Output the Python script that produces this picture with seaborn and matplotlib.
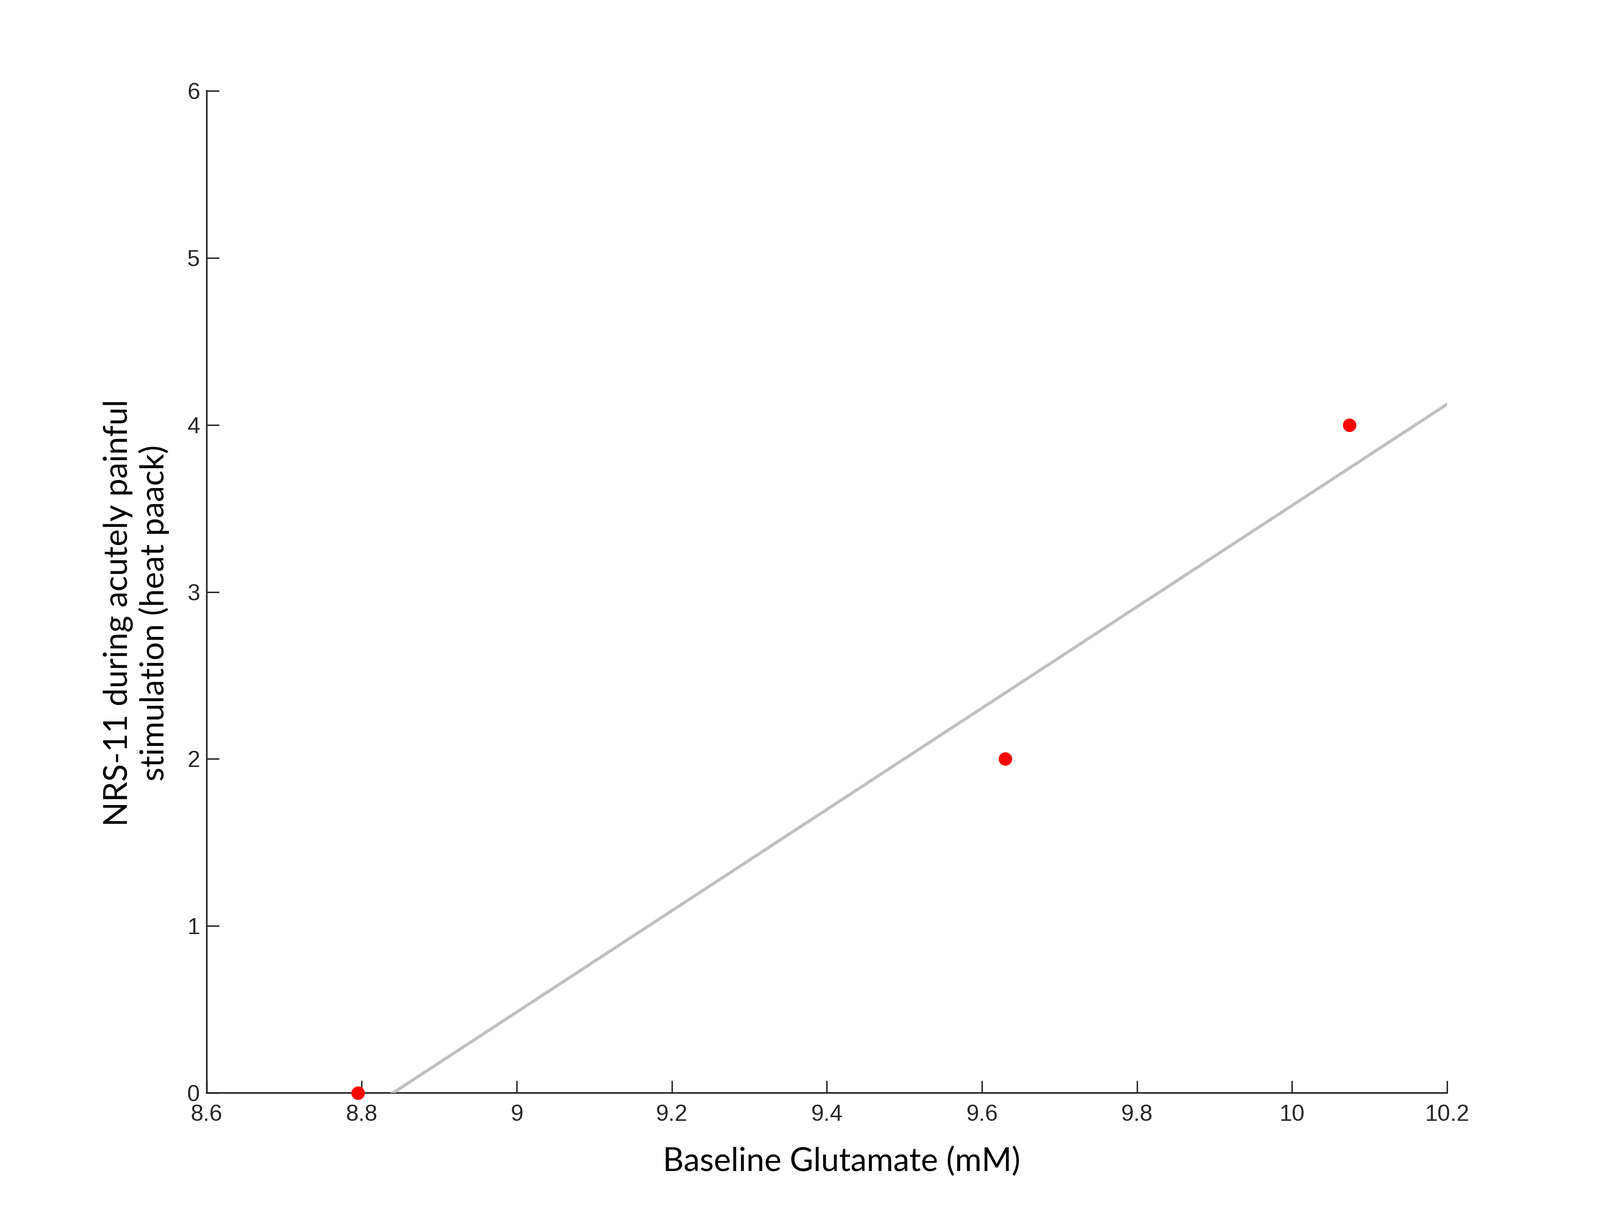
import matplotlib
matplotlib.use("Agg")
import matplotlib.pyplot as plt
import seaborn as sns
import pandas as pd

# Data
glutamate = [8.795, 9.63, 10.074]
nrs = [0, 2, 4]
x_ticks = [8.6, 8.8, 9.0, 9.2, 9.4, 9.6, 9.8, 10.0, 10.2]
x_tick_labels = ["8.6", "8.8", "9", "9.2", "9.4", "9.6", "9.8", "10", "10.2"]
y_ticks = [0, 1, 2, 3, 4, 5, 6]

df = pd.DataFrame({"Glutamate": glutamate, "NRS": nrs})

sns.set_theme(style="ticks")
plt.rcParams["font.family"] = ["Liberation Sans", "DejaVu Sans"]

fig = plt.figure(figsize=(3505 / 300, 2692 / 300), dpi=300)
ax = fig.add_axes([0.1292, 0.1107, 0.9044 - 0.1292, 0.926 - 0.1107])
ax.set_xlim(8.6, 10.2)
ax.set_ylim(0, 6)

sns.regplot(data=df, x="Glutamate", y="NRS", ax=ax, ci=None, truncate=False,
            scatter_kws={"color": "#ff0000", "s": 50, "clip_on": False, "zorder": 5,
                         "linewidths": 0, "alpha": 1},
            line_kws={"color": "#c0c0c0", "lw": 1.6, "zorder": 3})
ax.set_xlim(8.6, 10.2)
ax.set_ylim(0, 6)

ax.set_xticks(x_ticks)
ax.set_xticklabels(x_tick_labels)
ax.set_yticks(y_ticks)
ax.tick_params(direction="in", length=6.5, width=0.75, colors="#262626",
               labelsize=12)
ax.tick_params(axis="x", pad=6)
ax.tick_params(axis="y", pad=3.5)
for s in ["left", "bottom"]:
    ax.spines[s].set_linewidth(0.85)
    ax.spines[s].set_color("#262626")
sns.despine(ax=ax)

lab_font = ["Lato", "DejaVu Sans"]
ax.set_xlabel("Baseline Glutamate (mM)", fontsize=17, family=lab_font, color="black")
ax.set_ylabel("NRS-11 during acutely painful\nstimulation (heat paack)", fontsize=17,
              family=lab_font, color="black", linespacing=1.2)
ax.xaxis.set_label_coords(0.512, -0.0535)
ax.yaxis.set_label_coords(-0.03, 0.479)

fig.savefig("out.png", dpi=300, facecolor="white")
